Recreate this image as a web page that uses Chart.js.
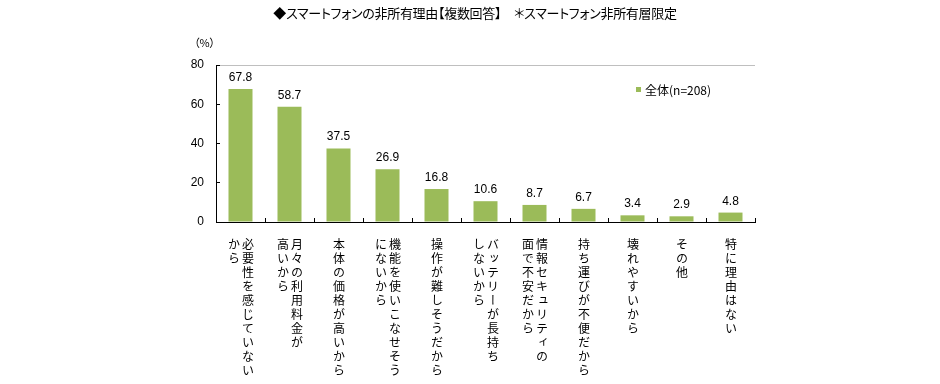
<!DOCTYPE html>
<html lang="ja">
<head>
<meta charset="utf-8">
<script src="https://cdn.jsdelivr.net/npm/chart.js@4.4.1/dist/chart.umd.min.js"></script>
<style>
  html, body { margin: 0; padding: 0; background: #fff; }
  #wrap { position: relative; width: 940px; height: 384px; overflow: hidden; }
  #c { display: block; }
  .txt { position: absolute; color: #000; font-family: "Noto Sans CJK JP", sans-serif; white-space: nowrap; }
  #title { top: 4px; left: 475px; transform: translateX(-50%); font-size: 13px; line-height: 18px; letter-spacing: -0.3px; font-feature-settings: "palt"; }
  #unit { top: 34px; left: 194px; font-size: 11px; line-height: 16px; font-feature-settings: "palt"; }
  #legend { top: 82px; left: 636px; font-size: 12px; line-height: 16px; }
  #legend .sw { display: inline-block; width: 5px; height: 5px; margin-right: 4px; vertical-align: 3px; }
  .xl { position: absolute; top: 238px; writing-mode: vertical-rl; font-family: "Noto Sans CJK JP", sans-serif;
        font-size: 12px; line-height: 14px; letter-spacing: 2px; color: #000; white-space: nowrap; transform: translateX(-50%); }
</style>
</head>
<body>
<div id="wrap">
  <canvas id="c" width="940" height="384"></canvas>
  <div id="title" class="txt"></div>
  <div id="unit" class="txt"></div>
  <div id="legend" class="txt"></div>
</div>
<script>
// ---- data ----
const chartTitle = "◆スマートフォンの非所有理由【複数回答】　＊スマートフォン非所有層限定";
const unitLabel = "（%）";
const seriesName = "全体(n=208)";
// each category: columns of vertical text (read right to left)
const categories = [
  ["必要性を感じていない", "から"],
  ["月々の利用料金が", "高いから"],
  ["本体の価格が高いから"],
  ["機能を使いこなせそう", "にないから"],
  ["操作が難しそうだから"],
  ["バッテリーが長持ち", "しないから"],
  ["情報セキュリティの", "面で不安だから"],
  ["持ち運びが不便だから"],
  ["壊れやすいから"],
  ["その他"],
  ["特に理由はない"]
];
const values = [67.8, 58.7, 37.5, 26.9, 16.8, 10.6, 8.7, 6.7, 3.4, 2.9, 4.8];
const yTickValues = [0, 20, 40, 60, 80];

const barColor = "#9BBB59";

const valueLabels = {
  id: "valueLabels",
  afterDatasetsDraw(chart) {
    const ctx = chart.ctx;
    const meta = chart.getDatasetMeta(0);
    ctx.save();
    ctx.font = "12px 'Liberation Sans', Arial, sans-serif";
    ctx.textAlign = "center";
    ctx.textBaseline = "alphabetic";
    meta.data.forEach((bar, i) => {
      const txt = values[i].toFixed(1);
      const w = ctx.measureText(txt).width;
      const by = bar.y - 8;
      ctx.fillStyle = "#fff";
      ctx.fillRect(bar.x - w / 2 - 8, by - 12, w + 16, 16);
      ctx.fillStyle = "#000";
      ctx.fillText(txt, bar.x, by);
    });
    ctx.restore();
  }
};

const xLabelPlugin = {
  id: "xLabelPlugin",
  afterRender(chart) {
    if (chart._labelsDone) return;
    chart._labelsDone = true;
    const wrap = document.getElementById("wrap");
    const xs = chart.scales.x;
    categories.forEach((cols, i) => {
      const d = document.createElement("div");
      d.className = "xl";
      d.innerHTML = cols.join("<br>");
      d.style.left = xs.getPixelForValue(i) + "px";
      wrap.appendChild(d);
    });
  }
};

document.getElementById("title").textContent = chartTitle;
document.getElementById("unit").textContent = unitLabel;

const chart = new Chart(document.getElementById("c"), {
  type: "bar",
  data: {
    labels: categories.map(c => c.join("")),
    datasets: [{
      label: seriesName,
      data: values,
      backgroundColor: barColor,
      borderWidth: 0,
      categoryPercentage: 1,
      barPercentage: 0.49
    }]
  },
  options: {
    responsive: false,
    animation: false,
    devicePixelRatio: 1,
    layout: { padding: { top: 65, right: 185, left: 0, bottom: 0 } },
    plugins: { legend: { display: false }, title: { display: false }, tooltip: { enabled: false } },
    scales: {
      x: {
        grid: { offset: true, drawOnChartArea: false, tickLength: -4, tickColor: "#000", color: "#000" },
        border: { color: "#000", width: 1 },
        ticks: { display: false },
        afterFit(s) { s.height = 384 - 222; }
      },
      y: {
        min: 0, max: 80,
        afterBuildTicks(s) { s.ticks = yTickValues.map(v => ({ value: v })); },
        ticks: { color: "#000", padding: 16, font: { family: "'Liberation Sans', Arial, sans-serif", size: 12 } },
        grid: {
          color: ctx => (ctx.tick && ctx.tick.value === 80) ? "#BFBFBF" : "rgba(0,0,0,0)",
          tickColor: "#000", tickLength: -4
        },
        border: { color: "#000", width: 1 },
        afterFit(s) { s.width = 216; }
      }
    }
  },
  plugins: [valueLabels, xLabelPlugin]
});

const lg = document.getElementById("legend");
lg.innerHTML = '<span class="sw" style="background:' + barColor + '"></span>' + chart.data.datasets[0].label;
</script>
</body>
</html>
